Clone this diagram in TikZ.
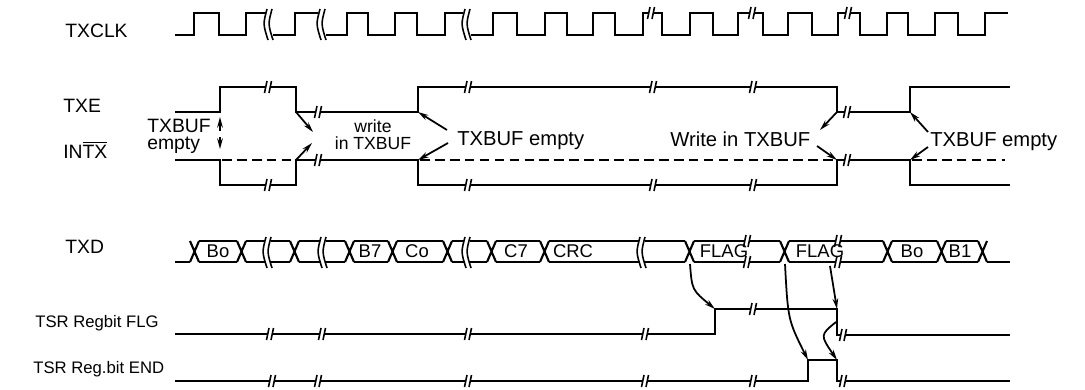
\documentclass[tikz,border=0pt]{standalone}
\usepackage{fontspec}
\setmainfont{Liberation Sans}
\usetikzlibrary{arrows.meta}

\tikzset{
  wave/.style={line width=1.2pt, line join=miter},
  idle/.style={line width=1pt, dash pattern=on 5.5pt off 3pt},
  cue/.style={line width=1pt, -{Stealth[length=6pt,width=3.2pt]}},
  sig/.style={font=\fontsize{11}{12}\selectfont, inner sep=0pt, anchor=base west},
  note/.style={font=\fontsize{11.5}{12}\selectfont, inner sep=0pt, anchor=base west},
  cell/.style={font=\fontsize{10.5}{12}\selectfont, inner sep=0pt, anchor=base}
}
% break mark on a line
\newcommand{\cut}[2]{%
  \fill[white] (#1-2.5,#2-5) rectangle (#1+2.5,#2+5);
  \draw[line width=0.9pt] (#1-3.5,#2+6) -- (#1-1,#2-6) (#1+1,#2+6) -- (#1+3.5,#2-6);}
% break mark across the clock edge
\newcommand{\clkcut}[1]{%
  \draw[line width=0.9pt] (#1-2,9) .. controls (#1-6,24) .. (#1-1,40)
    (#1+3,9) .. controls (#1-1,24) .. (#1+4,40);}
% break mark across the bus
\newcommand{\buscut}[1]{%
  \fill[white] (#1-3,238) rectangle (#1+3,265);
  \draw[line width=0.9pt] (#1-2,237) .. controls (#1-6,252) .. (#1-1,268)
    (#1+3,237) .. controls (#1-1,252) .. (#1+4,268);}
% bus crossing
\newcommand{\xing}[1]{\draw[wave] (#1,241) -- (#1+9,262) (#1,262) -- (#1+9,241);}

\begin{document}
\begin{tikzpicture}[x=0.02cm,y=-0.02cm]
\useasboundingbox (0,0) rectangle (1085,389);

% Signal names
\node[sig] (nclk) at (65,37) {TXCLK};
\node[sig] (ntxe) at (63,112) {TXE};
\node[sig] (nint) at (63,158) {IN$\overline{\mbox{TX}}$};
\node[sig] (ntxd) at (65,253) {TXD};
\node[sig,font=\fontsize{9.5}{11}\selectfont] (nflg) at (35,327) {TSR Regbit FLG};
\node[sig,font=\fontsize{9.5}{11}\selectfont] (nend) at (33,373) {TSR Reg.bit END};

% TXCLK
\draw[wave] (175,35) -- (194,35) -- (194,13) -- (219,13) -- (219,35) -- (246,35) -- (246,13) -- (266,13);
\draw[wave] (273,35) -- (295,35) -- (295,13) -- (318,13);
\draw[wave] (326,35) -- (347,35) -- (347,13) -- (368,13) -- (368,35) -- (395,35) -- (395,13) -- (417,13) -- (417,35) -- (445,35) -- (445,13) -- (463,13);
\draw[wave] (471,35) -- (493,35) -- (493,13) -- (517,13) -- (517,35) -- (545,35) -- (545,13) -- (567,13) -- (567,35) -- (593,35) -- (593,13) -- (615,13) -- (615,35) -- (643,35) -- (643,13) -- (662,13) -- (662,35) -- (690,35) -- (690,13) -- (713,13) -- (713,35) -- (738,35) -- (738,13) -- (763,13) -- (763,35) -- (788,35) -- (788,13) -- (812,13) -- (812,35) -- (838,35) -- (838,13) -- (860,13) -- (860,35) -- (887,35) -- (887,13) -- (908,13) -- (908,35) -- (935,35) -- (935,13) -- (958,13) -- (958,35) -- (985,35) -- (985,13) -- (1008,13);
\clkcut{269} \clkcut{322} \clkcut{467}
\cut{651}{13} \cut{752}{13} \cut{848}{13}

% TXE and INTX
\draw[wave] (175,112) -- (220,112) -- (220,87) -- (296,87) -- (296,112) -- (418,112) -- (418,87) -- (837,87) -- (837,112) -- (910,112) -- (910,87) -- (1010,87);
\draw[wave] (175,160) -- (220,160) -- (220,185) -- (296,185) -- (296,160) -- (418,160) -- (418,185) -- (837,185) -- (837,160) -- (910,160) -- (910,185) -- (1010,185);
\draw[idle] (222,160) -- (296,160) (420,160) -- (835,160) (912,160) -- (1005,160);
\cut{268}{87} \cut{318}{112} \cut{468}{87} \cut{653}{87} \cut{753}{87} \cut{847}{112}
\cut{268}{185} \cut{318}{160} \cut{468}{185} \cut{653}{185} \cut{753}{185} \cut{847}{160}

% edge points
\coordinate (e1t) at (220,112); \coordinate (e1b) at (220,160);
\coordinate (e2t) at (296,112); \coordinate (e2b) at (296,160);
\coordinate (e3t) at (418,112); \coordinate (e3b) at (418,160);
\coordinate (e4t) at (837,112); \coordinate (e4b) at (837,160);
\coordinate (e5t) at (910,112); \coordinate (e5b) at (910,160);

% Annotations
\node[note,font=\fontsize{11}{12}\selectfont] (buf1) at (147,132) {TXBUF};
\node[note,font=\fontsize{11}{12}\selectfont] (emp1) at (147,149) {empty};
\node[font=\fontsize{10}{11}\selectfont, inner sep=0pt, anchor=base] (wr1) at (373,132) {write};
\node[font=\fontsize{10}{11}\selectfont, inner sep=0pt, anchor=base] (in1) at (373,149) {in TXBUF};
\node[note] (emp2) at (457,145) {TXBUF empty};
\node[note] (wr2) at (670,146) {Write in TXBUF};
\node[note] (emp3) at (930,146) {TXBUF empty};

\draw[cue] (220,131) -- (220,117);
\draw[cue] (220,137) -- (220,149);
\draw[cue] (e2t) -- (313,132);
\draw[cue] (e2b) -- (312,143);
\draw[cue] (447,130) -- (e3t);
\draw[cue] (448,143) -- (e3b);
\draw[cue] (e4t) -- (820,130);
\draw[cue] (817,146) -- (e4b);
\draw[cue] (928,132) -- (e5t);
\draw[cue] (928,147) -- (e5b);

% TXD
\draw[wave] (175,262) -- (190,262) (987,262) -- (1010,262);
\draw[wave] (199,241) -- (978,241) (199,262) -- (978,262);
\foreach \x in {190,237,290,345,388,443,487,540,685,780,883,937,978} {
  \fill[white] (\x,239) rectangle (\x+9,264);
  \xing{\x}}
\buscut{268} \buscut{323} \buscut{467} \buscut{642}
\cut{747}{262} \cut{838}{262} \cut{747}{241} \cut{838}{241}
\node[cell] at (218,257) {Bo};
\node[cell] at (370,257) {B7};
\node[cell] at (417,257) {Co};
\node[cell] at (516,257) {C7};
\node[cell] at (573,257) {CRC};
\node[cell] at (724,257) {FLAG};
\node[cell] at (820,257) {FLAG};
\node[cell] at (912,257) {Bo};
\node[cell] at (960,257) {B1};

% TSR Regbit FLG and Reg.bit END
\draw[wave] (175,334) -- (715,334) -- (715,309) -- (837,309) -- (837,335) -- (1010,335);
\draw[wave] (175,381) -- (808,381) -- (808,360) -- (837,360) -- (837,381) -- (1010,381);
\cut{270}{334} \cut{322}{334} \cut{468}{334} \cut{645}{334} \cut{753}{309} \cut{843}{335}
\cut{272}{381} \cut{318}{381} \cut{468}{381} \cut{645}{381} \cut{753}{381} \cut{843}{381}

\coordinate (fl1) at (690,264); \coordinate (fl2) at (785,264); \coordinate (fl3) at (830,266);
\coordinate (up1) at (715,309); \coordinate (up2) at (808,360); \coordinate (dn1) at (837,309); \coordinate (dn2) at (837,360);
\draw[cue] (fl1) .. controls (692,290) .. (up1);
\draw[cue] (fl2) .. controls (788,320) .. (up2);
\draw[cue] (fl3) -- (dn1);
\draw[cue] (836,322) .. controls (820,335) .. (dn2);
\end{tikzpicture}
\end{document}
